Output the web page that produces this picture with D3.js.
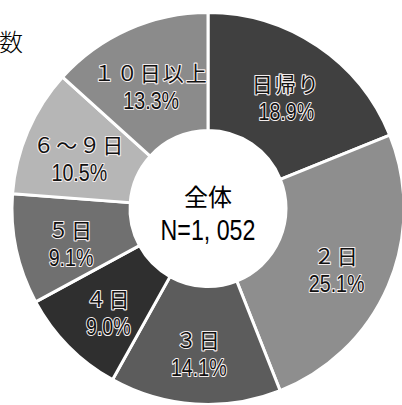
<!DOCTYPE html>
<meta charset="utf-8">
<script src="https://d3js.org/d3.v7.min.js"></script>
<style>
body { margin: 0; background: #fff; }
.lbl { font-family: "Noto Sans CJK JP", sans-serif; fill: #111; stroke: #f4eeee; stroke-width: 2.2px; paint-order: stroke; stroke-linejoin: round; }
.pct { font-family: "Liberation Sans", sans-serif; }
</style>
<div id="chart"></div>
<script>
// data
var names = ["日帰り", "２日", "３日", "４日", "５日", "６〜９日", "１０日以上"];
var shares = [18.9, 25.1, 14.1, 9.0, 9.1, 10.5, 13.3];
var greys = ["#404040", "#8e8e8e", "#5c5c5c", "#2f2f2f", "#707070", "#b6b6b6", "#8b8b8b"];

var width = 402, height = 405,
    cx = 208, cy = 208.5,
    outerR = 196, innerR = 78;

var svg = d3.select("#chart").append("svg")
    .attr("width", width)
    .attr("height", height);

// cut-off title fragment
svg.append("text")
    .attr("x", -1).attr("y", 51)
    .style("font-family", "Noto Sans CJK JP")
    .style("font-size", "24px")
    .style("font-weight", 300)
    .text("数");

var g = svg.append("g").attr("transform", "translate(" + cx + "," + cy + ")");

var pie = d3.pie().sort(null).value(function(d) { return d; });
var arcs = pie(shares);

var arc = d3.arc().innerRadius(innerR).outerRadius(outerR);
var labelArc = d3.arc().innerRadius(140).outerRadius(140);

g.selectAll("path")
  .data(arcs)
  .enter().append("path")
    .attr("d", arc)
    .attr("fill", function(d, i) { return greys[i]; })
    .attr("stroke", "#fff")
    .attr("stroke-width", 3);

var labels = g.selectAll("g.label")
  .data(arcs)
  .enter().append("g")
    .attr("class", "label")
    .attr("transform", function(d) {
      var c = labelArc.centroid(d);
      return "translate(" + c[0] + "," + (c[1] + 4) + ")";
    });

labels.append("text")
    .attr("class", "lbl")
    .attr("text-anchor", "middle")
    .attr("y", -4)
    .style("font-size", "21px")
    .style("letter-spacing", "2px")
    .text(function(d, i) { return names[i]; });

labels.append("text")
    .attr("class", "lbl pct")
    .attr("text-anchor", "middle")
    .attr("transform", "translate(0,24) scale(0.82,1)")
    .style("font-size", "24px")
    .text(function(d, i) { return shares[i].toFixed(1) + "%"; });

// centre text
g.append("text")
    .attr("text-anchor", "middle")
    .attr("y", -3)
    .style("font-family", "Noto Sans CJK JP")
    .style("font-size", "24px")
    .text("全体");

g.append("text")
    .attr("text-anchor", "middle")
    .attr("transform", "translate(0,31) scale(0.8,1)")
    .style("font-family", "Liberation Sans, sans-serif")
    .style("font-size", "29px")
    .text("N=1, 052");
</script>
